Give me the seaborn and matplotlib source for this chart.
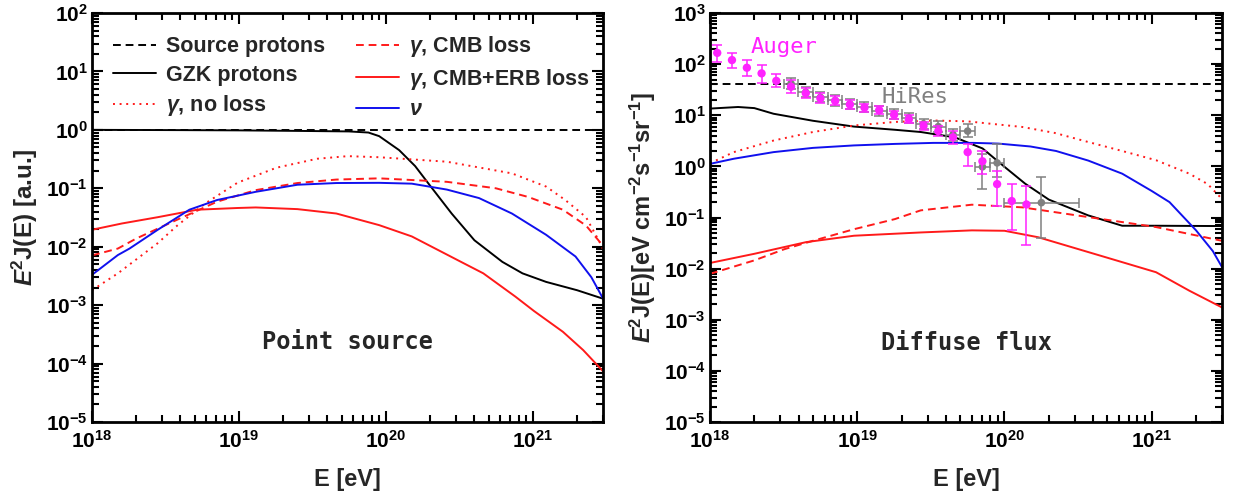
import matplotlib
matplotlib.use("Agg")
import matplotlib.pyplot as plt
import matplotlib.ticker as mticker
import seaborn as sns
import pandas as pd

# ---------------- data ----------------
# Left panel: point source
ps_src_E = [1e18, 3e21]
ps_src_Y = [1.0, 1.0]

ps_gzk_E = [1e18, 4e18, 1e19, 2.5e19, 5.6e19, 7.6e19, 9.0e19, 1.23e20, 1.58e20, 1.95e20,
            2.8e20, 4.0e20, 6.2e20, 8.5e20, 1.23e21, 2.0e21, 3.0e21]
ps_gzk_Y = [1.0, 0.99, 0.98, 0.96, 0.94, 0.9, 0.78, 0.45, 0.24, 0.12,
            0.037, 0.0129, 0.0055, 0.0035, 0.0025, 0.0018, 0.00129]

ps_noloss_E = [1e18, 1.5e18, 2.8e18, 3.8e18, 5.9e18, 9.8e18, 1.8e19, 3.4e19, 5.5e19, 9.0e19,
               2.6e20, 7.2e20, 1.23e21, 1.66e21, 2.3e21, 2.9e21, 3.0e21]
ps_noloss_Y = [0.0018, 0.0035, 0.0115, 0.023, 0.055, 0.125, 0.225, 0.32, 0.355, 0.34,
               0.285, 0.18, 0.107, 0.063, 0.032, 0.011, 0.009]

ps_cmb_E = [1e18, 1.5e18, 2.0e18, 3.8e18, 7.1e18, 1.3e19, 2.5e19, 4.6e19, 9.0e19, 2.6e20,
            5.6e20, 9.3e20, 1.6e21, 2.3e21, 2.9e21, 3.0e21]
ps_cmb_Y = [0.0071, 0.0093, 0.0138, 0.029, 0.059, 0.093, 0.123, 0.141, 0.148, 0.129,
            0.1, 0.071, 0.043, 0.023, 0.0115, 0.0105]

ps_erb_E = [1e18, 1.6e18, 2.8e18, 5.2e18, 9.8e18, 1.3e19, 2.5e19, 4.6e19, 9.0e19, 1.5e20,
            3.2e20, 4.6e20, 7.6e20, 1.02e21, 1.6e21, 2.2e21, 3.0e21]
ps_erb_Y = [0.0195, 0.025, 0.032, 0.043, 0.046, 0.047, 0.044, 0.037, 0.0234, 0.015,
            0.0056, 0.0035, 0.0014, 0.00079, 0.00035, 0.00017, 0.000074]

ps_nu_E = [1e18, 1.5e18, 1.8e18, 2.8e18, 4.6e18, 7.1e18, 1.3e19, 2.5e19, 4.6e19, 9.0e19,
           1.5e20, 2.6e20, 4.3e20, 7.2e20, 1.23e21, 1.95e21, 2.5e21, 3.0e21]
ps_nu_Y = [0.0033, 0.0072, 0.0093, 0.0195, 0.043, 0.063, 0.087, 0.115, 0.123, 0.124,
           0.12, 0.095, 0.068, 0.037, 0.016, 0.0068, 0.003, 0.0013]

# Right panel: diffuse flux
df_src_E = [1e18, 3e21]
df_src_Y = [40.0, 40.0]

df_gzk_E = [1e18, 1.55e18, 2.0e18, 2.7e18, 5.0e18, 9.5e18, 1.8e19, 2.7e19, 4.6e19, 7.1e19,
            1.0e20, 1.38e20, 2.0e20, 3.7e20, 6.3e20, 1.07e21, 3.0e21]
df_gzk_Y = [13.5, 14.5, 13.8, 10.7, 7.8, 6.0, 5.2, 4.7, 3.7, 2.24,
            0.98, 0.46, 0.224, 0.11, 0.069, 0.069, 0.068]

df_noloss_E = [1e18, 1.45e18, 2.7e18, 5.0e18, 9.5e18, 1.8e19, 3.3e19, 5.6e19, 1.32e20,
               2.2e20, 3.7e20, 6.3e20, 1.07e21, 1.8e21, 2.4e21, 3.0e21]
df_noloss_Y = [1.15, 1.9, 3.2, 4.7, 6.3, 7.4, 7.9, 7.6, 5.9,
               4.5, 3.0, 2.0, 1.32, 0.72, 0.45, 0.23]

df_cmb_E = [1e18, 2.0e18, 3.2e18, 5.0e18, 9.5e18, 1.8e19, 2.7e19, 6.0e19, 1.32e20,
            3.7e20, 1.07e21, 3.0e21]
df_cmb_Y = [0.0079, 0.0145, 0.024, 0.035, 0.059, 0.093, 0.138, 0.178, 0.158,
            0.102, 0.065, 0.035]

df_erb_E = [1e18, 2.0e18, 4.5e18, 9.5e18, 2.7e19, 6.0e19, 1.0e20, 1.7e20, 4.9e20,
            1.07e21, 1.8e21, 3.0e21]
df_erb_Y = [0.0129, 0.0195, 0.033, 0.044, 0.051, 0.056, 0.055, 0.041, 0.0166,
            0.0085, 0.0037, 0.00174]

df_nu_E = [1e18, 1.45e18, 2.7e18, 5.0e18, 9.5e18, 1.8e19, 3.3e19, 6.2e19, 9.1e19,
           1.5e20, 2.24e20, 3.7e20, 6.3e20, 1.0e21, 1.32e21, 2.0e21, 2.6e21, 3.0e21]
df_nu_Y = [1.12, 1.41, 1.9, 2.3, 2.57, 2.75, 2.88, 2.88, 2.79,
           2.45, 2.0, 1.3, 0.72, 0.33, 0.2, 0.056, 0.022, 0.0107]

# Auger data
auger_E = [1.12e18, 1.41e18, 1.78e18, 2.24e18, 2.82e18, 3.55e18, 4.47e18, 5.62e18, 7.08e18,
           8.91e18, 1.12e19, 1.41e19, 1.78e19, 2.24e19, 2.82e19, 3.55e19, 4.47e19, 5.62e19,
           7.08e19, 8.91e19, 1.12e20, 1.41e20]
auger_Y = [166, 120, 85, 66, 47, 36, 27, 21.4, 19.1,
           16.2, 14.1, 12.6, 10.2, 8.3, 6.2, 4.9, 3.7, 1.9,
           1.26, 0.45, 0.21, 0.18]
auger_lo = [112, 83, 57.5, 42, 35, 27, 21.4, 17, 15.6,
            13.5, 11.7, 10.5, 8.5, 6.9, 5.2, 3.9, 2.8, 1.0,
            0.72, 0.166, 0.0575, 0.0295]
auger_hi = [234, 166, 120, 98, 63, 49, 33.9, 27, 23.4,
            19.5, 16.9, 15.1, 12.3, 10.0, 7.5, 6.2, 4.9, 2.75,
            2.04, 0.83, 0.447, 0.407]

# HiRes data
hires_E = [3.55e18, 4.47e18, 5.62e18, 7.08e18, 8.91e18, 1.12e19, 1.41e19, 1.78e19,
           2.24e19, 2.82e19, 3.55e19, 4.47e19, 5.62e19, 7.08e19, 8.91e19, 1.78e20]
hires_Y = [41.7, 28.2, 22.4, 19.5, 16.6, 14.5, 12.3, 10.7,
           8.9, 6.8, 6.0, 4.2, 4.9, 0.98, 1.17, 0.195]
hires_lo = [33, 22.4, 17.8, 15.5, 13.2, 11.5, 9.8, 8.5,
            7.1, 5.4, 4.7, 3.2, 3.8, 0.36, 0.62, 0.039]
hires_hi = [53, 35.5, 28.2, 24.5, 20.9, 18.3, 15.5, 13.5,
            11.2, 8.6, 7.6, 5.5, 6.6, 1.78, 2.7, 0.63]
hires_Elo = [3.16e18, 3.98e18, 5.01e18, 6.31e18, 7.94e18, 1.0e19, 1.26e19, 1.58e19,
             2.0e19, 2.51e19, 3.16e19, 3.98e19, 5.01e19, 6.31e19, 7.94e19, 1.0e20]
hires_Ehi = [3.98e18, 5.01e18, 6.31e18, 7.94e18, 1.0e19, 1.26e19, 1.58e19, 2.0e19,
             2.51e19, 3.16e19, 3.98e19, 5.01e19, 6.31e19, 7.94e19, 1.0e20, 3.2e20]

legend_labels = ["Source protons", "GZK protons", r"$\mathbfit{\gamma}$, no loss",
                 r"$\mathbfit{\gamma}$, CMB loss", r"$\mathbfit{\gamma}$, CMB+ERB loss",
                 r"$\mathbfit{\nu}$"]

# ---------------- style ----------------
sns.set_style("ticks")
plt.rcParams["font.family"] = ["Liberation Sans", "DejaVu Sans"]
plt.rcParams["font.weight"] = "bold"
plt.rcParams["mathtext.fontset"] = "custom"
plt.rcParams["mathtext.rm"] = "Liberation Sans"
plt.rcParams["mathtext.bf"] = "Liberation Sans:bold"
plt.rcParams["mathtext.it"] = "Liberation Sans:italic"
plt.rcParams["mathtext.bfit"] = "Liberation Sans:italic:bold"
plt.rcParams["mathtext.default"] = "bf"

RED = "#ff1a1a"
BLUE = "#1010ee"
MAG = "#ff22ff"
GRAY = "#808080"
DASH = (0, (4, 2.5))
DOT = (0, (1, 2.4))
LW = 1.4

fig = plt.figure(figsize=(12.35, 4.97), dpi=100)
W, H = 1235.0, 497.0
ax1 = fig.add_axes([92 / W, 1 - 422 / H, (603 - 92) / W, (422 - 13) / H])
ax2 = fig.add_axes([710 / W, 1 - 422 / H, (1222 - 710) / W, (422 - 13) / H])
for ax in (ax1, ax2):
    ax.set_xscale("log")
    ax.set_yscale("log")


def draw_curves(ax, series, with_labels):
    handles = []
    for (E, Y, color, ls, lab) in series:
        sns.lineplot(x=E, y=Y, ax=ax, color=color, linestyle=ls, lw=LW,
                     label=lab if with_labels else None, legend=False)
        handles.append(ax.lines[-1])
    return handles


def style_axis(ax, ylim):
    ax.set_xlim(1e18, 3e21)
    ax.set_ylim(*ylim)
    ax.xaxis.set_major_locator(mticker.LogLocator(base=10, numticks=20))
    ax.xaxis.set_minor_locator(mticker.LogLocator(base=10, subs=range(2, 10), numticks=40))
    ax.yaxis.set_major_locator(mticker.LogLocator(base=10, numticks=20))
    ax.yaxis.set_minor_locator(mticker.LogLocator(base=10, subs=range(2, 10), numticks=40))
    ax.xaxis.set_minor_formatter(mticker.NullFormatter())
    ax.yaxis.set_minor_formatter(mticker.NullFormatter())
    ax.tick_params(which="both", direction="in", top=True, right=True,
                   width=1.5, labelsize=15, colors="black")
    ax.tick_params(which="major", length=8)
    ax.tick_params(which="minor", length=5)
    ax.tick_params(axis="x", which="major", pad=6)
    ax.tick_params(axis="y", which="major", pad=3)
    for sp in ax.spines.values():
        sp.set_linewidth(2)
        sp.set_color("black")
    ax.set_xlabel("E [eV]", fontsize=17, fontweight="bold", labelpad=11)


h1 = draw_curves(ax1, [
    (ps_src_E, ps_src_Y, "black", DASH, legend_labels[0]),
    (ps_gzk_E, ps_gzk_Y, "black", "-", legend_labels[1]),
    (ps_noloss_E, ps_noloss_Y, RED, DOT, legend_labels[2]),
    (ps_cmb_E, ps_cmb_Y, RED, DASH, legend_labels[3]),
    (ps_erb_E, ps_erb_Y, RED, "-", legend_labels[4]),
    (ps_nu_E, ps_nu_Y, BLUE, "-", legend_labels[5]),
], True)
style_axis(ax1, (1e-5, 1e2))
ax1.set_ylabel(r"$\mathbfit{E}^{\mathbf{2}}$J(E) [a.u.]", fontsize=17.5, fontweight="bold", labelpad=4)
ax1.legend(handles=h1, labels=legend_labels, ncol=2, loc="upper left", frameon=False,
           prop={"size": 15.5, "weight": "bold"}, handlelength=2.0, handletextpad=0.45,
           columnspacing=1.45, labelspacing=0.35, borderaxespad=0.3,
           bbox_to_anchor=(0.012, 0.985))
ax1.text(5.5e19, 2.3e-4, "Point source", family="DejaVu Sans Mono", fontweight="bold",
         fontsize=17, ha="center", va="center")

# Right panel
draw_curves(ax2, [
    (df_src_E, df_src_Y, "black", DASH, None),
    (df_gzk_E, df_gzk_Y, "black", "-", None),
    (df_noloss_E, df_noloss_Y, RED, DOT, None),
    (df_cmb_E, df_cmb_Y, RED, DASH, None),
    (df_erb_E, df_erb_Y, RED, "-", None),
    (df_nu_E, df_nu_Y, BLUE, "-", None),
], False)

hires = pd.DataFrame({"E": hires_E, "Y": hires_Y})
ax2.errorbar(hires_E, hires_Y,
             yerr=[[y - l for y, l in zip(hires_Y, hires_lo)], [h - y for y, h in zip(hires_Y, hires_hi)]],
             xerr=[[e - l for e, l in zip(hires_E, hires_Elo)], [h - e for e, h in zip(hires_E, hires_Ehi)]],
             fmt="none", ecolor=GRAY, elinewidth=1.1, capsize=3.5, capthick=1.1, zorder=3)
sns.scatterplot(data=hires, x="E", y="Y", ax=ax2, color=GRAY, s=30, edgecolor="none",
                zorder=4, legend=False)

auger = pd.DataFrame({"E": auger_E, "Y": auger_Y})
ax2.errorbar(auger_E, auger_Y,
             yerr=[[y - l for y, l in zip(auger_Y, auger_lo)], [h - y for y, h in zip(auger_Y, auger_hi)]],
             fmt="none", ecolor=MAG, elinewidth=1.1, capsize=3.5, capthick=1.1, zorder=5)
sns.scatterplot(data=auger, x="E", y="Y", ax=ax2, color=MAG, s=36, edgecolor="none",
                zorder=6, legend=False)

style_axis(ax2, (1e-5, 1e3))
if ax2.get_legend() is not None:
    ax2.get_legend().remove()
ax2.set_ylabel(r"$\mathbfit{E}^{\mathbf{2}}$J(E)[eV cm$^{\mathbf{-2}}$s$^{\mathbf{-1}}$sr$^{\mathbf{-1}}$]",
               fontsize=17, fontweight="bold", labelpad=4)
ax2.text(1.9e18, 2.2e2, "Auger", family="DejaVu Sans Mono", fontweight="normal",
         fontsize=16, color=MAG, ha="left", va="center")
ax2.text(1.45e19, 2.3e1, "HiRes", family="DejaVu Sans Mono", fontweight="normal",
         fontsize=16, color=GRAY, ha="left", va="center")
ax2.text(5.5e19, 3.5e-4, "Diffuse flux", family="DejaVu Sans Mono", fontweight="bold",
         fontsize=17, ha="center", va="center")

fig.savefig("out.png", dpi=100)
